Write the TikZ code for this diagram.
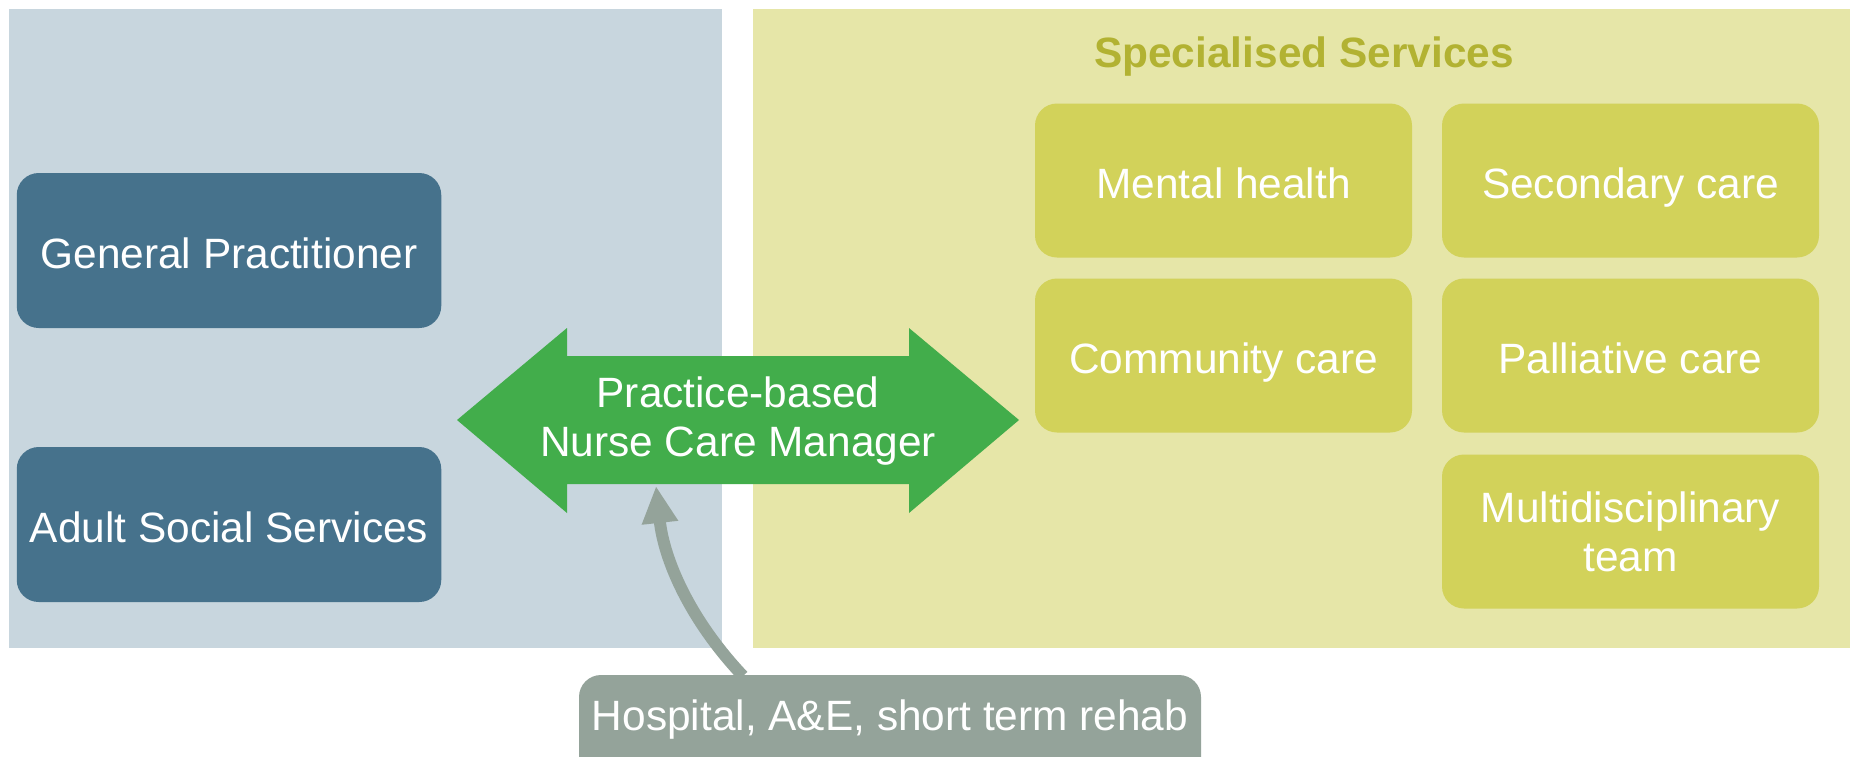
\documentclass[tikz,border=0pt]{standalone}
\usepackage{fontspec}
\setmainfont{Liberation Sans}
\usetikzlibrary{arrows.meta}
\definecolor{leftbg}{HTML}{C8D6DE}
\definecolor{rightbg}{HTML}{E6E6A8}
\definecolor{gpblue}{HTML}{46728C}
\definecolor{specbox}{HTML}{D2D25A}
\definecolor{titlecol}{HTML}{B2B232}
\definecolor{arrowgreen}{HTML}{42AD4B}
\definecolor{hospgray}{HTML}{94A39A}
\newcommand\bigfs{\fontsize{21.2}{24.5}\selectfont}
\tikzset{
  bluebox/.style={fill=gpblue, rounded corners=11pt, minimum width=212.25pt, minimum height=77.5pt, inner sep=0pt, text=white, font=\bigfs, align=center, text height=17.6pt, text depth=0pt},
  specnode/.style={fill=specbox, rounded corners=11pt, minimum width=188.5pt, minimum height=77pt, inner sep=0pt, text=white, font=\bigfs, align=center},
  oneline/.style={text height=17.6pt, text depth=0pt},
  labeltext/.style={text=white, font=\bigfs, align=center, inner sep=0pt},
  hosparrow/.style={draw=hospgray, line width=6pt, -{Triangle[width=17pt,length=18.5pt]}},
}
\begin{document}
\begin{tikzpicture}[x=0.5pt,y=-0.5pt]
\clip (0,0) rectangle (1850,756);
\fill[white] (0,0) rectangle (1850,756);
% panels
\fill[leftbg] (9,9) rectangle (722,648);
\fill[rightbg] (753,9) rectangle (1850,648);
\node[anchor=base, text=titlecol, font=\bigfs\bfseries, inner sep=0pt] (title) at (1304,67) {Specialised Services};
% left boxes
\node[bluebox] (gp) at (229,250.5) {General Practitioner};
\node[bluebox] (ass) at (229,524.5) {Adult Social Services};
% specialised boxes
\node[specnode, oneline] (mh) at (1223.5,180.5) {Mental health};
\node[specnode, oneline] (sc) at (1630.5,180.5) {Secondary care};
\node[specnode, oneline] (cc) at (1223.5,355.5) {Community care};
\node[specnode, oneline] (pc) at (1630.5,355.5) {Palliative care};
\node[specnode] (md) at (1630.5,531.5) {Multidisciplinary\\team};
% double arrow
\fill[arrowgreen] (457,420) -- (567,328) -- (567,356) -- (909,356) -- (909,328) -- (1019,420) -- (909,513) -- (909,484) -- (567,484) -- (567,513) -- cycle;
\node[labeltext] (ncm) at (738,421) {Practice-based\\Nurse Care Manager};
% hospital box
\fill[hospgray, rounded corners=11pt] (579,675) rectangle (1201,800);
\node[labeltext] (hosp) at (890,720) {Hospital, A\&E, short term rehab};
\coordinate (hstart) at (743,676);
\coordinate (ncmtip) at (656,486);
\draw[hosparrow] (hstart) .. controls (690,620) and (664,560) .. (ncmtip);
\end{tikzpicture}
\end{document}
